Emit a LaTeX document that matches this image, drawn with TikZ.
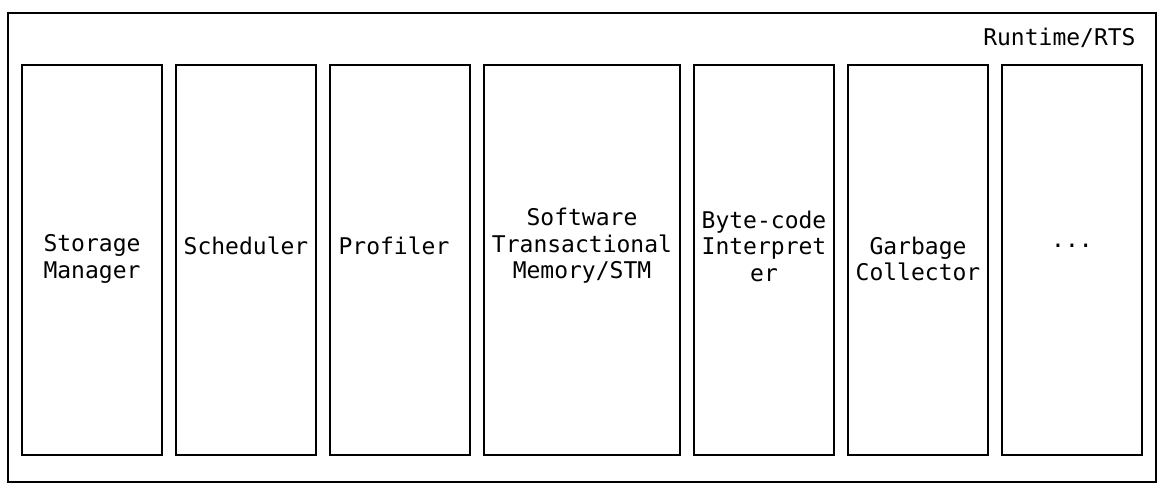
\documentclass[tikz,border=0pt]{standalone}
\usepackage{fontspec}
\setmonofont{DejaVu Sans Mono}
\usepackage{tikz}
\usetikzlibrary{positioning,calc}
\tikzset{
    outer/.style={draw,line width=0.9pt,minimum width=574pt,minimum height=234.5pt,inner sep=0pt},
    part/.style={draw,line width=0.9pt,minimum width=70pt,minimum height=195pt,inner sep=0pt},
    widepart/.style={part,minimum width=98pt},
    txt/.style={font=\ttfamily\fontsize{11.5pt}{13.25pt}\selectfont,align=center,inner sep=0pt},
}
\begin{document}
\begin{tikzpicture}[x=0.5pt,y=-0.5pt]
                \useasboundingbox (0,0) rectangle (1164,496);
                \node[outer] (rts) at (582,247.5) {};
                \node[txt,anchor=east] (rtslabel) at (1136,38) {Runtime/RTS};
                \node[part] (storage) at (92,260) {};
                \node[part] (sched) at (246,260) {};
                \node[part] (prof) at (400,260) {};
                \node[widepart] (stm) at (582,260) {};
                \node[part] (interp) at (764,260) {};
                \node[part] (gc) at (918,260) {};
                \node[part] (more) at (1072,260) {};
                \node[txt] (storagetxt) at (92,259) {Storage\\Manager};
                \node[txt] (schedtxt) at (246,246) {Scheduler};
                \node[txt] (proftxt) at (394,246) {Profiler};
                \node[txt] (stmtxt) at (582,246) {Software\\Transactional\\Memory/STM};
                \node[txt] (interptxt) at (764,246) {Byte-code\\Interpret\\er};
                \node[txt] (gctxt) at (918,259) {Garbage\\Collector};
                \node[txt] (moretxt) at (1072,246) {...};
%                \draw[->] (storage) -- (more);
            \end{tikzpicture}
\end{document}
